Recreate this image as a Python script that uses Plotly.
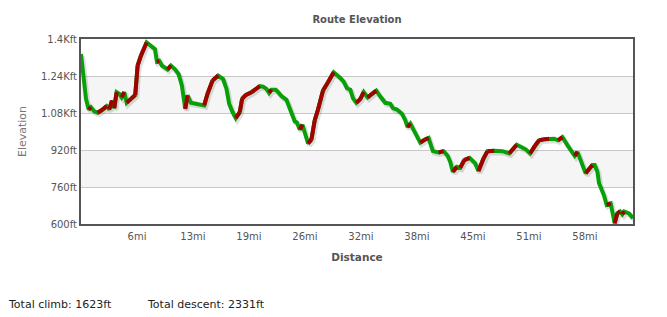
import plotly.graph_objects as go

# ---- data ----
distance_mi = [0, 0.27, 0.57, 0.88, 1.14, 1.52, 1.9, 2.48, 2.93, 3.23, 3.54, 3.8, 4.07, 4.37, 4.64,
               4.94, 5.22, 5.71, 6.2, 6.47, 6.85, 7.5, 7.99, 8.45, 8.68, 8.94, 9.25, 9.9, 10.27, 10.77,
               11.15, 11.53, 11.91, 12.18, 12.56, 13.32, 14.08, 14.46, 15.03, 15.67, 16.24, 16.63,
               16.93, 17.32, 17.69, 18.15, 18.41, 18.84, 19.49, 20.43, 20.81, 21.2, 21.5, 21.77, 22.26,
               22.52, 22.91, 23.48, 24.05, 24.43, 24.69, 25.0, 25.31, 25.57, 25.95, 26.34, 26.71, 27.09,
               27.66, 28.23, 28.88, 29.57, 30.02, 30.4, 30.78, 31.08, 31.47, 31.93, 32.31, 32.76, 33.25,
               33.75, 34.21, 34.78, 35.35, 35.65, 36.11, 36.68, 37.07, 37.33, 37.64, 38.01, 38.39,
               38.78, 39.35, 39.73, 39.99, 40.22, 40.87, 41.44, 41.9, 42.2, 42.5, 42.96, 43.34, 43.8,
               44.41, 45.06, 45.43, 46.0, 46.46, 47.23, 48.17, 48.94, 49.8, 50.26, 50.83, 51.33, 51.86,
               52.36, 52.93, 53.5, 54.07, 54.53, 55.02, 55.59, 56.16, 56.43, 56.74, 57.19, 57.68,
               58.45, 58.71, 59.02, 59.21, 59.78, 60.08, 60.54, 61.0, 61.3, 61.61, 61.87, 62.07,
               62.63, 63.09]
elevation_ft = [1335, 1227, 1141, 1095, 1105, 1087, 1081, 1095, 1110, 1095, 1134, 1101, 1170, 1163, 1148,
                1170, 1124, 1141, 1158, 1285, 1328, 1385, 1371, 1356, 1302, 1306, 1285, 1268, 1285, 1268,
                1249, 1199, 1098, 1156, 1124, 1120, 1113, 1163, 1220, 1242, 1227, 1184,
                1120, 1084, 1058, 1084, 1141, 1158, 1170, 1196, 1194, 1184, 1167, 1181, 1181,
                1170, 1153, 1137, 1084, 1044, 1038, 1009, 1029, 991, 948, 966, 1048, 1095,
                1177, 1213, 1256, 1234, 1216, 1187, 1181, 1144, 1124, 1141, 1170, 1147, 1163,
                1177, 1151, 1124, 1120, 1101, 1095, 1077, 1048, 1019, 1034, 1005, 976,
                952, 966, 972, 941, 915, 909, 915, 895, 869, 826, 847, 843, 876,
                886, 862, 829, 883, 915, 917, 915, 905, 943, 933, 923, 905, 938,
                962, 966, 969, 969, 962, 976, 941, 909, 895, 912, 869, 819,
                855, 855, 826, 776, 723, 683, 689, 603, 646, 654, 642, 654,
                646, 625]

y_ticks = [600, 760, 920, 1080, 1240, 1400]
y_tick_labels = ["600ft", "760ft", "920ft", "1.08Kft", "1.24Kft", "1.4Kft"]
x_ticks = [6.4, 12.8, 19.2, 25.6, 32.0, 38.4, 44.8, 51.2, 57.6]
x_tick_labels = ["6mi", "13mi", "19mi", "26mi", "32mi", "38mi", "45mi", "51mi", "58mi"]
bands = [(760, 920), (1080, 1240)]
x_max = 63.09
total_climb = "1623ft"
total_descent = "2331ft"

RED = "#a30000"
GREEN = "#08a008"
FONT = "DejaVu Sans"

W, H = 667, 317
ML, MR, MT, MB = 81, 34, 38.5, 92.5
plot_w = W - ML - MR
plot_h = H - MT - MB
mi_per_px = x_max / plot_w
ft_per_px = (y_ticks[-1] - y_ticks[0]) / plot_h

# climb segments
rx, ry = [], []
for i in range(len(distance_mi) - 1):
    if elevation_ft[i + 1] > elevation_ft[i]:
        rx += [distance_mi[i], distance_mi[i + 1], None]
        ry += [elevation_ft[i], elevation_ft[i + 1], None]

fig = go.Figure()
# soft shadow
fig.add_trace(go.Scatter(
    x=[d + 1.5 * mi_per_px for d in distance_mi],
    y=[e - 2 * ft_per_px for e in elevation_ft],
    mode="lines", line=dict(color="rgba(0,0,0,0.13)", width=5),
    hoverinfo="skip", showlegend=False, cliponaxis=True))
# descent (base line)
fig.add_trace(go.Scatter(x=distance_mi, y=elevation_ft, mode="lines",
                         line=dict(color=GREEN, width=4), showlegend=False))
# climbs
fig.add_trace(go.Scatter(x=rx, y=ry, mode="lines",
                         line=dict(color=RED, width=4), showlegend=False))

shapes = []
for b0, b1 in bands:
    shapes.append(dict(type="rect", xref="paper", yref="y", x0=0, x1=1, y0=b0, y1=b1,
                       fillcolor="#f5f5f5", line=dict(width=0), layer="below"))

bottom_y = -(305 - MT - plot_h) / plot_h

fig.update_layout(
    width=W, height=H,
    margin=dict(l=ML, r=MR, t=MT, b=MB, pad=0),
    paper_bgcolor="white", plot_bgcolor="white",
    shapes=shapes,
    title=dict(text="<b>Route Elevation</b>", x=(ML + plot_w / 2) / W, xanchor="center",
               y=1 - 19.5 / H, yanchor="middle",
               font=dict(family=FONT, size=10, color="#555555")),
    xaxis=dict(range=[0, x_max], tickvals=x_ticks, ticktext=x_tick_labels,
               showgrid=False, zeroline=False, ticks="", ticklabelstandoff=2,
               showline=True, linecolor="#555555", linewidth=2, mirror=True,
               tickfont=dict(family=FONT, size=10, color="#555555"),
               title=dict(text="<b>Distance</b>", standoff=13,
                          font=dict(family=FONT, size=10.5, color="#555555"))),
    yaxis=dict(range=[y_ticks[0], y_ticks[-1]], tickvals=y_ticks, ticktext=y_tick_labels,
               showgrid=True, gridcolor="#c8c8c8", gridwidth=1, zeroline=False, ticks="",
               showline=True, linecolor="#555555", linewidth=2, mirror=True,
               tickfont=dict(family=FONT, size=10, color="#555555"),
               title=dict(text="Elevation", standoff=12,
                          font=dict(family=FONT, size=11, color="#777777"))),
    annotations=[
        dict(text="Total climb: " + total_climb, xref="paper", yref="paper",
             x=(6 - ML) / plot_w, y=bottom_y, xanchor="left",
             yanchor="middle", showarrow=False,
             font=dict(family=FONT, size=11, color="#222222")),
        dict(text="Total descent: " + total_descent, xref="paper", yref="paper",
             x=(145 - ML) / plot_w, y=bottom_y, xanchor="left",
             yanchor="middle", showarrow=False,
             font=dict(family=FONT, size=11, color="#222222")),
    ],
)

fig.write_html("out.html")
